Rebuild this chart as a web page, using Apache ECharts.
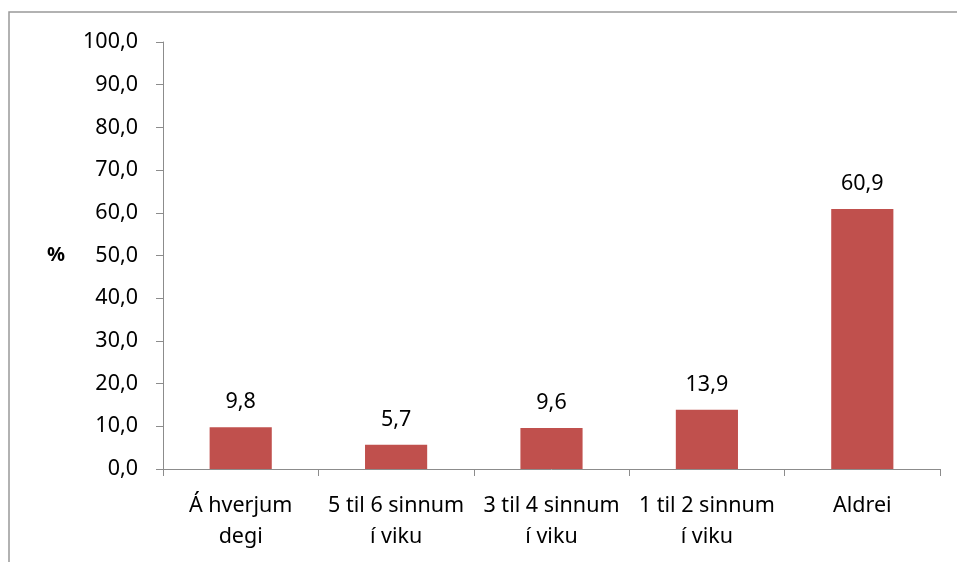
<!DOCTYPE html>
<html>
<head>
<meta charset="utf-8">
<script src="https://cdn.jsdelivr.net/npm/echarts@6/dist/echarts.min.js"></script>
<style>
  html, body { margin: 0; padding: 0; background: #fff; }
  #chart { width: 957px; height: 562px; }
</style>
</head>
<body>
<div id="chart"></div>
<script>
// Frequency categories and their shares (%)
const categories = ['Á hverjum\ndegi', '5 til 6 sinnum\ní viku', '3 til 4 sinnum\ní viku', '1 til 2 sinnum\ní viku', 'Aldrei'];
const values = [9.8, 5.7, 9.6, 13.9, 60.9];
const yAxisName = '%';

const FONT = '"Noto Sans", sans-serif';
const AXIS_COLOR = '#8c8c8c';
const fmt = v => v.toFixed(1).replace('.', ',');

const chart = echarts.init(document.getElementById('chart'), null, { renderer: 'canvas' });
chart.setOption({
  animation: false,
  backgroundColor: '#fff',
  textStyle: { fontFamily: FONT },
  graphic: [{
    type: 'rect',
    shape: { x: 9, y: 12, width: 1000, height: 600 },
    style: { fill: 'none', stroke: '#999', lineWidth: 1.5 },
    silent: true
  }],
  grid: { left: 163, top: 42, right: 17, bottom: 93, containLabel: false },
  xAxis: {
    type: 'category',
    data: categories,
    axisLine: { lineStyle: { color: AXIS_COLOR, width: 1 } },
    axisTick: { show: true, length: 7, lineStyle: { color: AXIS_COLOR }, alignWithLabel: false },
    axisLabel: { color: '#000', fontSize: 21.5, fontFamily: FONT, margin: 21, lineHeight: 31, interval: 0 }
  },
  yAxis: {
    type: 'value',
    min: 0, max: 100, interval: 10,
    name: yAxisName,
    nameLocation: 'middle',
    nameRotate: 0,
    nameGap: 98,
    nameTextStyle: { color: '#000', fontSize: 20, fontWeight: 'bold', fontFamily: FONT },
    axisLine: { show: true, lineStyle: { color: AXIS_COLOR, width: 1 } },
    axisTick: { show: true, length: 7, lineStyle: { color: AXIS_COLOR } },
    splitLine: { show: false },
    axisLabel: { color: '#000', fontSize: 21.5, fontFamily: FONT, margin: 25, formatter: v => fmt(v) }
  },
  series: [{
    type: 'bar',
    data: values,
    barWidth: '40%',
    itemStyle: { color: '#C0504D' },
    label: {
      show: true, position: 'top', distance: 14,
      color: '#000', fontSize: 21.5, fontFamily: FONT,
      formatter: p => fmt(p.value)
    }
  }]
});
</script>
</body>
</html>
